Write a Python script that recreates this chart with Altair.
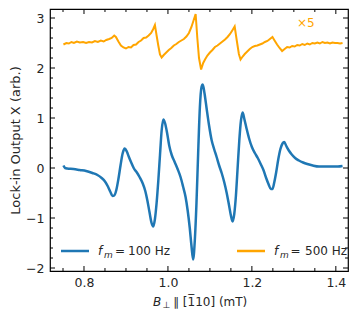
import altair as alt
import pandas as pd

# ---- data ----
x_blue = [0.751, 0.755, 0.760, 0.775, 0.790, 0.805, 0.820, 0.832, 0.842, 0.850,
          0.857, 0.863, 0.868, 0.872, 0.877, 0.882, 0.887, 0.892, 0.897, 0.902,
          0.907, 0.913, 0.919, 0.926, 0.933, 0.940, 0.946, 0.951, 0.956, 0.961,
          0.965, 0.969, 0.973, 0.977, 0.981, 0.985, 0.989, 0.993, 0.998, 1.003,
          1.009, 1.016, 1.023, 1.030, 1.036, 1.042, 1.047, 1.052, 1.056, 1.060,
          1.064, 1.068, 1.072, 1.076, 1.080, 1.083, 1.087, 1.092, 1.098, 1.104,
          1.110, 1.116, 1.122, 1.128, 1.134, 1.140, 1.145, 1.150, 1.154, 1.158,
          1.162, 1.166, 1.170, 1.174, 1.178, 1.182, 1.187, 1.193, 1.200, 1.207,
          1.214, 1.221, 1.228, 1.234, 1.240, 1.245, 1.249, 1.253, 1.258, 1.263,
          1.268, 1.273, 1.277, 1.282, 1.288, 1.295, 1.303, 1.312, 1.322, 1.332,
          1.345, 1.360, 1.375, 1.390, 1.405, 1.416]
y_blue = [0.05, 0.00, -0.01, -0.02, -0.04, -0.06, -0.10, -0.14, -0.20, -0.27,
          -0.37, -0.48, -0.56, -0.55, -0.44, -0.22, 0.05, 0.29, 0.39, 0.33,
          0.22, 0.10, -0.01, -0.09, -0.19, -0.31, -0.46, -0.65, -0.88, -1.10,
          -1.17, -1.02, -0.70, -0.26, 0.25, 0.75, 0.97, 0.90, 0.70, 0.45,
          0.26, 0.12, -0.02, -0.18, -0.37, -0.58, -0.85, -1.20, -1.55, -1.83,
          -1.45, -0.70, 0.30, 1.20, 1.62, 1.67, 1.50, 1.20, 0.85, 0.56,
          0.38, 0.22, 0.05, -0.10, -0.28, -0.50, -0.72, -0.95, -1.07, -0.92,
          -0.55, 0.00, 0.55, 0.95, 1.11, 0.98, 0.80, 0.60, 0.42, 0.30,
          0.20, 0.08, -0.05, -0.20, -0.33, -0.42, -0.42, -0.30, -0.08, 0.18,
          0.38, 0.49, 0.52, 0.44, 0.35, 0.27, 0.20, 0.15, 0.11, 0.08,
          0.05, 0.03, 0.03, 0.03, 0.03, 0.04]

x_orange = [0.751, 0.758, 0.764, 0.770, 0.776, 0.783, 0.790, 0.798, 0.805, 0.812,
            0.819, 0.826, 0.833, 0.840, 0.847, 0.853, 0.860, 0.866, 0.872, 0.876,
            0.882, 0.888, 0.894, 0.900, 0.906, 0.912, 0.918, 0.924, 0.930, 0.936,
            0.942, 0.948, 0.954, 0.960, 0.965, 0.969, 0.973, 0.977, 0.981, 0.985,
            0.990, 0.996, 1.002, 1.008, 1.014, 1.020, 1.026, 1.032, 1.038, 1.044,
            1.050, 1.056, 1.061, 1.066, 1.070, 1.074, 1.079, 1.084, 1.089, 1.094,
            1.100, 1.106, 1.112, 1.118, 1.124, 1.130, 1.136, 1.142, 1.148, 1.154,
            1.159, 1.164, 1.169, 1.173, 1.178, 1.183, 1.189, 1.195, 1.201, 1.207,
            1.213, 1.219, 1.225, 1.231, 1.237, 1.243, 1.249, 1.254, 1.260, 1.266,
            1.272, 1.278, 1.284, 1.290, 1.296, 1.302, 1.308, 1.314, 1.320, 1.326,
            1.332, 1.338, 1.344, 1.350, 1.356, 1.362, 1.368, 1.374, 1.380, 1.386,
            1.392, 1.398, 1.404, 1.410, 1.416]
y_orange = [2.47, 2.50, 2.49, 2.52, 2.50, 2.53, 2.51, 2.52, 2.50, 2.52,
            2.51, 2.54, 2.52, 2.55, 2.53, 2.56, 2.58, 2.60, 2.65, 2.62,
            2.53, 2.45, 2.41, 2.39, 2.42, 2.41, 2.46, 2.47, 2.52, 2.55,
            2.60, 2.61, 2.65, 2.70, 2.78, 2.86, 2.65, 2.45, 2.27, 2.21,
            2.26, 2.31, 2.36, 2.40, 2.45, 2.48, 2.52, 2.55, 2.58, 2.63,
            2.70, 2.82, 2.95, 3.08, 2.60, 2.20, 1.97, 2.10, 2.18, 2.25,
            2.31, 2.36, 2.42, 2.45, 2.49, 2.53, 2.57, 2.62, 2.68, 2.76,
            2.83, 2.55, 2.28, 2.17, 2.23, 2.28, 2.33, 2.38, 2.42, 2.44,
            2.45, 2.47, 2.49, 2.52, 2.54, 2.58, 2.62, 2.55, 2.47, 2.40,
            2.34, 2.38, 2.42, 2.41, 2.44, 2.43, 2.46, 2.45, 2.48, 2.46,
            2.49, 2.47, 2.50, 2.49, 2.51, 2.49, 2.52, 2.50, 2.51, 2.49,
            2.51, 2.50, 2.50, 2.49, 2.50]

x_major = [0.8, 1.0, 1.2, 1.4]
x_minor = [0.75, 0.85, 0.9, 0.95, 1.05, 1.1, 1.15, 1.25, 1.3, 1.35]
y_major = [-2, -1, 0, 1, 2, 3]
y_minor = [-1.8, -1.6, -1.4, -1.2, -0.8, -0.6, -0.4, -0.2, 0.2, 0.4, 0.6, 0.8,
           1.2, 1.4, 1.6, 1.8, 2.2, 2.4, 2.6, 2.8]

BLUE = "#1f77b4"
ORANGE = "#ffa500"
FONT = "DejaVu Sans"
TXT = "#262626"
FS_TICK = 12.5
FS_LEG = 12
W, H = 298, 262

xs = alt.Scale(domain=[0.719, 1.429], nice=False, zero=False)
ys = alt.Scale(domain=[-2.06, 3.18], nice=False, zero=False)

df_blue = pd.DataFrame({"B": x_blue, "V": y_blue})
df_orange = pd.DataFrame({"B": x_orange, "V": y_orange})

x_axis = alt.Axis(values=x_major, format=".1f", ticks=False, domain=False, grid=False,
                  labelPadding=5, labelFont=FONT, labelFontSize=FS_TICK, labelColor=TXT,
                  title=None)
y_axis = alt.Axis(values=y_major, format="d", ticks=False, domain=False, grid=False,
                  labelPadding=6, labelFont=FONT, labelFontSize=FS_TICK, labelColor=TXT,
                  labelExpr="replace(datum.label, '-', '\u2212')",
                  title="Lock-in Output X (arb.)", titleFont=FONT, titleFontSize=13,
                  titleFontWeight="normal", titleColor=TXT, titlePadding=3)

X = lambda: alt.X("B:Q", scale=xs, axis=x_axis)
Y = lambda: alt.Y("V:Q", scale=ys, axis=y_axis)

orange_line = alt.Chart(df_orange).mark_line(color=ORANGE, strokeWidth=2).encode(x=X(), y=Y())
blue_line = alt.Chart(df_blue).mark_line(color=BLUE, strokeWidth=2.5,
                                         interpolate="monotone").encode(x=X(), y=Y())

layers = [orange_line, blue_line]

def xticks(vals, length):
    d = pd.DataFrame({"B": vals})
    bot = alt.Chart(d).mark_rule(color="black", strokeWidth=1).encode(
        x=X(), y=alt.value(H), y2=alt.value(H - length))
    top = alt.Chart(d).mark_rule(color="black", strokeWidth=1).encode(
        x=X(), y=alt.value(0), y2=alt.value(length))
    return [bot, top]

def yticks(vals, length):
    d = pd.DataFrame({"V": vals})
    left = alt.Chart(d).mark_rule(color="black", strokeWidth=1).encode(
        y=Y(), x=alt.value(0), x2=alt.value(length))
    right = alt.Chart(d).mark_rule(color="black", strokeWidth=1).encode(
        y=Y(), x=alt.value(W), x2=alt.value(W - length))
    return [left, right]

layers += xticks(x_major, 5) + xticks(x_minor, 3) + yticks(y_major, 5) + yticks(y_minor, 3)

def seg(x1, x2, y, color):
    return alt.Chart(pd.DataFrame({"a": [0]})).mark_rule(color=color, strokeWidth=2.5).encode(
        x=alt.value(x1), x2=alt.value(x2), y=alt.value(y))

def txt(s, x, y, size=FS_LEG, style="normal", color=TXT, align="left"):
    return alt.Chart(pd.DataFrame({"a": [0]})).mark_text(
        text=s, font=FONT, fontSize=size, fontStyle=style, color=color,
        align=align, baseline="alphabetic").encode(x=alt.value(x), y=alt.value(y))

# legend entries and annotations
layers += [
    seg(11, 39, 242, BLUE),
    txt("f", 48, 246, style="italic"),
    txt("m", 54, 249, size=9, style="italic"),
    txt("=", 65, 246),
    txt("100 Hz", 78, 246),
    seg(187, 215, 242, ORANGE),
    txt("f", 224, 246, style="italic"),
    txt("m", 230, 249, size=9, style="italic"),
    txt("=", 240.5, 246),
    txt("500 Hz", 255, 246),
    txt("\u00d75", 247, 18, color=ORANGE),
    # x-axis title
    txt("B", 103, 297, style="italic"),
    txt("\u22a5", 112.5, 299, size=9),
    txt("\u2225 [1\u030510] (mT)", 123, 297),
]

chart = alt.layer(*layers).properties(
    width=W, height=H,
    autosize=alt.AutoSizeParams(type="none"),
    padding={"left": 42, "top": 1, "right": 1, "bottom": 39},
).configure_view(stroke="black", strokeWidth=1.2)

chart.save("out.html", embed_options={"renderer": "svg", "actions": False})
